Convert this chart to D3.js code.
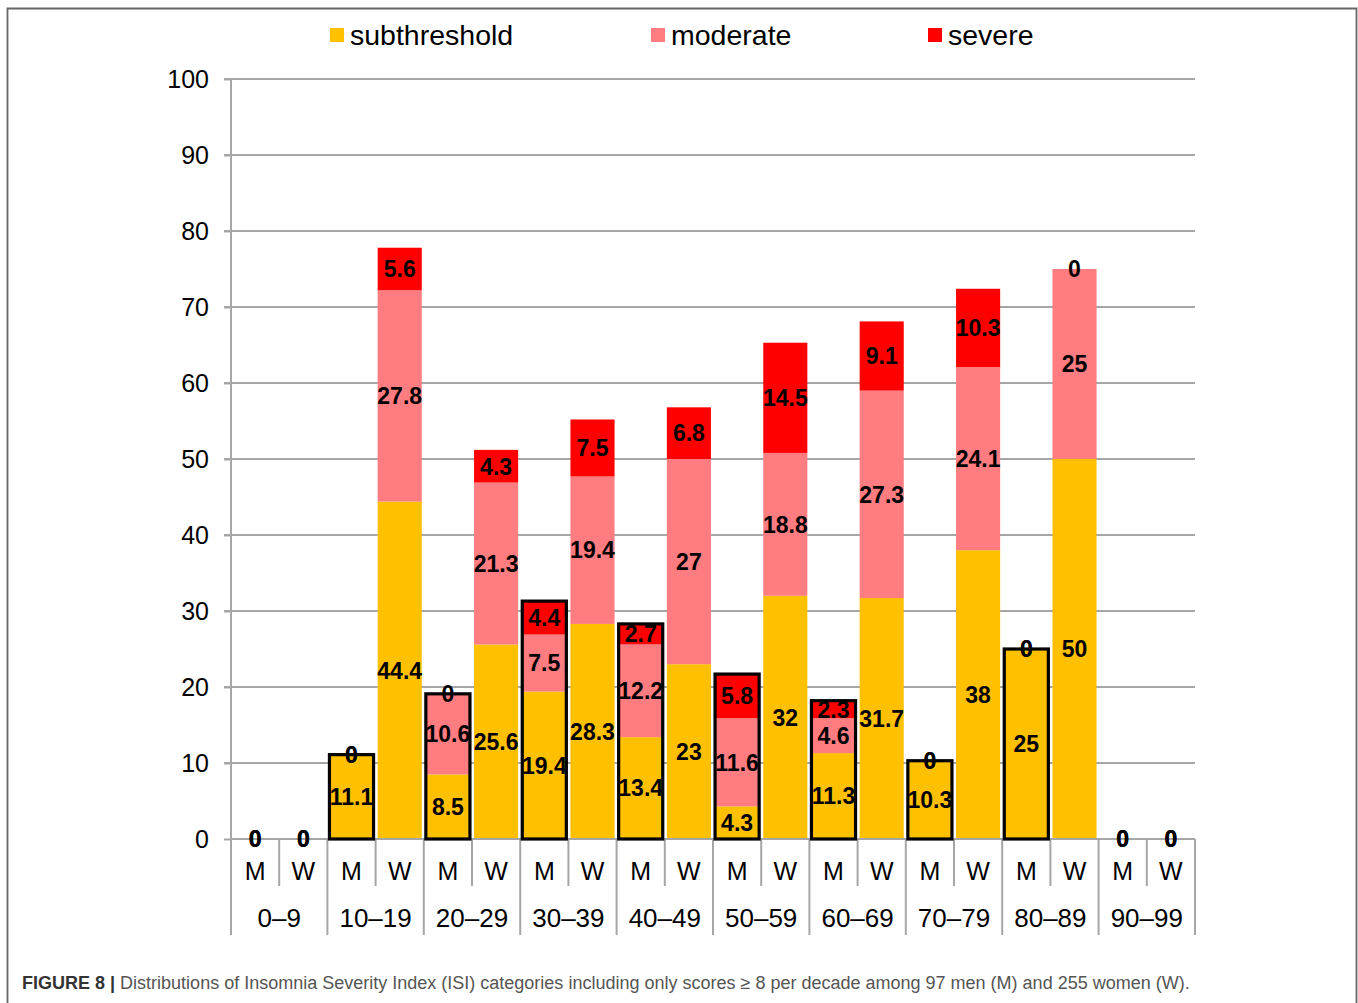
<!DOCTYPE html>
<html><head><meta charset="utf-8">
<script src="https://cdn.jsdelivr.net/npm/d3@7"></script>
<style>body{margin:0;background:#fff}svg{display:block}</style>
</head><body>
<script>
const ageGroups = ["0–9","10–19","20–29","30–39","40–49","50–59","60–69","70–79","80–89","90–99"];
const sexes = ["M","W"];
const seriesNames = ["subthreshold","moderate","severe"];
const seriesColors = ["#FFC000","#FF7C80","#FF0000"];
const menSub = [0,11.1,8.5,19.4,13.4,4.3,11.3,10.3,25,0];
const menMod = [0,0,10.6,7.5,12.2,11.6,4.6,0,0,0];
const menSev = [0,0,0,4.4,2.7,5.8,2.3,0,0,0];
const womenSub = [0,44.4,25.6,28.3,23,32,31.7,38,50,0];
const womenMod = [0,27.8,21.3,19.4,27,18.8,27.3,24.1,25,0];
const womenSev = [0,5.6,4.3,7.5,6.8,14.5,9.1,10.3,0,0];
const yTicks = [0,10,20,30,40,50,60,70,80,90,100];
const captionBold = "FIGURE 8 |";
const captionText = " Distributions of Insomnia Severity Index (ISI) categories including only scores ≥ 8 per decade among 97 men (M) and 255 women (W).";

const W = 1358, H = 1003;
const svg = d3.select("body").append("svg").attr("width", W).attr("height", H);
const font = "Liberation Sans, Arial, sans-serif";

// figure border
svg.append("path").attr("d", `M7.5,${H+2} V8.5 H1356.5 V${H+2}`)
  .attr("fill","none").attr("stroke","#666").attr("stroke-width",1.8);

// rows
const rows = [];
ageGroups.forEach((g,i) => {
  rows.push({key: i*2, group: g, sex: "M", vals: [menSub[i], menMod[i], menSev[i]]});
  rows.push({key: i*2+1, group: g, sex: "W", vals: [womenSub[i], womenMod[i], womenSev[i]]});
});

const x0 = 231, x1 = 1195, yTop = 79, yBot = 839;
const x = d3.scaleBand().domain(rows.map(r => r.key)).range([x0, x1]).paddingInner(0.085).paddingOuter(0.0425);
const y = d3.scaleLinear().domain([0,100]).range([yBot, yTop]);
const grid = "#A6A6A6";

// gridlines
svg.append("g").selectAll("line").data(yTicks.slice(1)).join("line")
  .attr("x1", 224).attr("x2", x1).attr("y1", d => y(d)).attr("y2", d => y(d))
  .attr("stroke", grid).attr("stroke-width", 2);
// y axis
const yAxis = d3.axisLeft(y).tickValues(yTicks).tickSize(7).tickPadding(15);
const ya = svg.append("g").attr("transform", `translate(${x0},0)`).call(yAxis);
ya.select(".domain").attr("stroke", grid).attr("stroke-width", 2).attr("d", `M0,${yTop}V${yBot}`);
ya.selectAll(".tick line").attr("stroke", grid).attr("stroke-width", 2);
ya.selectAll(".tick text").attr("font-family", font).attr("font-size", 25).attr("fill", "#000");

// stacked bars
const stack = d3.stack().keys([0,1,2]).value((r,k) => r.vals[k]);
const layers = stack(rows);
const barsG = svg.append("g");
layers.forEach((layer, k) => {
  barsG.append("g").selectAll("rect").data(layer).join("rect")
    .attr("x", d => x(d.data.key)).attr("width", x.bandwidth())
    .attr("y", d => y(d[1])).attr("height", d => y(d[0]) - y(d[1]))
    .attr("fill", seriesColors[k]);
});

// x axis baseline and separators
const step = x.step();
svg.append("line").attr("x1", x0).attr("x2", x1).attr("y1", yBot).attr("y2", yBot)
  .attr("stroke", grid).attr("stroke-width", 2);
const seps = d3.range(rows.length + 1);
svg.append("g").selectAll("line").data(seps).join("line")
  .attr("x1", i => x0 + i*step).attr("x2", i => x0 + i*step)
  .attr("y1", yBot).attr("y2", i => i % 2 === 0 ? 935 : 886)
  .attr("stroke", grid).attr("stroke-width", 2);

// men outline
const men = rows.filter(r => r.sex === "M" && d3.sum(r.vals) > 0);
svg.append("g").selectAll("rect").data(men).join("rect")
  .attr("x", r => x(r.key)).attr("width", x.bandwidth())
  .attr("y", r => y(d3.sum(r.vals))).attr("height", r => yBot - y(d3.sum(r.vals)))
  .attr("fill", "none").attr("stroke", "#000").attr("stroke-width", 3.2);

// data labels
layers.forEach((layer, k) => {
  svg.append("g").selectAll("text").data(layer).join("text")
    .attr("x", d => x(d.data.key) + x.bandwidth()/2)
    .attr("y", d => y((d[0]+d[1])/2)).attr("dy", "0.36em")
    .attr("text-anchor", "middle").attr("font-family", font).attr("font-weight", "bold")
    .attr("font-size", 23).attr("fill", "#000")
    .text(d => d.data.vals[k]);
});

// category labels
svg.append("g").selectAll("text").data(rows).join("text")
  .attr("x", r => x(r.key) + x.bandwidth()/2).attr("y", 871).attr("dy", "0.36em")
  .attr("text-anchor", "middle").attr("font-family", font).attr("font-size", 25)
  .text(r => r.sex);
svg.append("g").selectAll("text").data(ageGroups).join("text")
  .attr("x", (g,i) => x0 + (i*2+1)*step).attr("y", 918).attr("dy", "0.36em")
  .attr("text-anchor", "middle").attr("font-family", font).attr("font-size", 26)
  .text(g => g);

// legend
const legX = [330, 651, 928];
const leg = svg.append("g").selectAll("g").data(seriesNames).join("g")
  .attr("transform", (d,i) => `translate(${legX[i]},28)`);
leg.append("rect").attr("width", 14).attr("height", 14).attr("fill", (d,i) => seriesColors[i]);
leg.append("text").attr("x", 20).attr("y", 7).attr("dy", "0.36em")
  .attr("font-family", font).attr("font-size", 28.5).text(d => d);

// caption
const cap = svg.append("text").attr("x", 22).attr("y", 989)
  .attr("font-family", "Liberation Sans Narrow, Liberation Sans, Arial, sans-serif").attr("font-size", 18);
cap.append("tspan").attr("font-weight", "bold").attr("fill", "#333").text(captionBold);
cap.append("tspan").attr("fill", "#555").text(captionText);
const len = cap.node().getComputedTextLength();
const target = 1190 - 22;
cap.attr("transform", `translate(22,0) scale(${target/len},1) translate(-22,0)`);
</script>
</body></html>
